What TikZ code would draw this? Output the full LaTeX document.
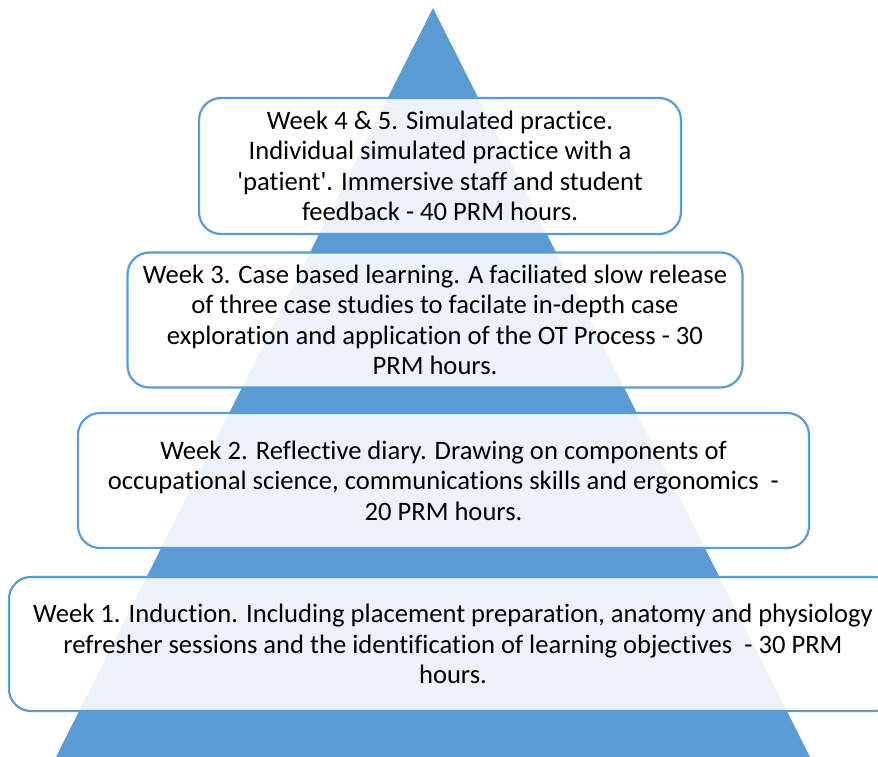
\documentclass[tikz,border=0pt]{standalone}
\usepackage{fontspec}
\setmainfont{Carlito}[Ligatures={TeXOff,CommonOff}]
\definecolor{pyrblue}{HTML}{5B9BD5}
\begin{document}
\begin{tikzpicture}[x=1pt,y=-1pt,
  stage/.style={draw=pyrblue, line width=2.2pt, fill=white, fill opacity=0.88, text opacity=1,
    rounded corners=22pt, align=center, inner sep=0pt,
    font=\fontsize{26.6}{30.5}\selectfont}]
\useasboundingbox (0,0) rectangle (878,757);
\clip (0,0) rectangle (878,757);
\coordinate (apex) at (433,8);
\coordinate (bl) at (56,757);
\coordinate (br) at (810,757);
\fill[pyrblue] (apex) -- (br) -- (bl) -- cycle;
\node[stage, minimum width=482pt, minimum height=136pt] (b4) at (440,166)
  {Week 4 \& 5. Simulated practice.\\Individual simulated practice with a\\'patient'. Immersive staff and student\\feedback - 40 PRM hours.};
\node[stage, minimum width=615pt, minimum height=135pt] (b3) at (435,320)
  {Week 3. Case based learning. A faciliated slow release\\of three case studies to facilate in-depth case\\exploration and application of the OT Process - 30\\PRM hours.};
\node[stage, minimum width=731pt, minimum height=135pt] (b2) at (443.5,480.5)
  {Week 2. Reflective diary. Drawing on components of\\occupational science, communications skills and ergonomics\ \ -\\20 PRM hours.};
\node[stage, minimum width=888pt, minimum height=134pt] (b1) at (453,644)
  {Week 1. Induction. Including placement preparation, anatomy and physiology\\refresher sessions and the identification of learning objectives\ \ - 30 PRM\\hours.};
\end{tikzpicture}
\end{document}
